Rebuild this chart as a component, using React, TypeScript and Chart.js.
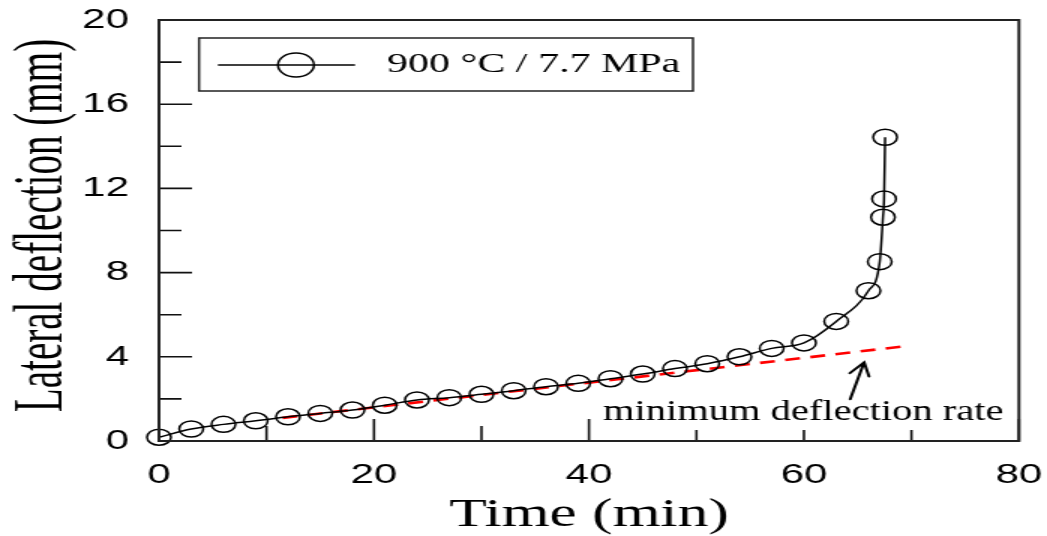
import React, { useEffect, useRef } from 'react';
import { Chart, registerables } from 'chart.js';

Chart.register(...registerables);

// ---- data ----
const timeMin = [0, 3, 6, 9, 12, 15, 18, 21, 24, 27, 30, 33, 36, 39, 42, 45, 48, 51, 54, 57, 60, 63, 66, 67.05, 67.35, 67.45, 67.55];
const deflectionMm = [0.18, 0.57, 0.79, 0.96, 1.15, 1.31, 1.47, 1.7, 1.95, 2.06, 2.22, 2.39, 2.58, 2.74, 2.96, 3.18, 3.44, 3.67, 4.0, 4.4, 4.66, 5.68, 7.14, 8.52, 10.63, 11.5, 14.43];

const minRateTime = [11.5, 69];
const minRateDeflection = [1.1, 4.48];

const xMajorTicks = [0, 20, 40, 60, 80];
const xMinorTicks = [10, 30, 50, 70];
const yMajorTicks = [0, 4, 8, 12, 16, 20];
const yMinorTicks = [2, 6, 10, 14, 18];

const seriesLabel = '900 °C / 7.7 MPa';
const minRateLabel = 'minimum deflection rate';
const xTitle = 'Time (min)';
const yTitle = 'Lateral deflection (mm)';

// annotation anchors in data units
const noteAnchor = { x: 41.3, y: 1.02 };
const arrowTail = { x: 64.3, y: 1.98 };
const arrowTip = { x: 65.6, y: 3.74 };

const CANVAS_W = 698; // drawn narrow, shown stretched like the reference
const CANVAS_H = 536;

const SERIF = '"Liberation Serif", "Times New Roman", serif';
const SANS = '"Liberation Sans", Arial, sans-serif';

const ticksPlugin = {
  id: 'innerTicks',
  beforeDatasetsDraw(chart: any) {
    const { ctx, chartArea: a, scales } = chart;
    const x = scales.x;
    const y = scales.y;
    ctx.save();
    ctx.strokeStyle = '#111';
    ctx.lineWidth = 1.6;
    ctx.beginPath();
    xMajorTicks.forEach((t) => {
      const px = x.getPixelForValue(t);
      ctx.moveTo(px, a.bottom);
      ctx.lineTo(px, a.bottom - 22);
    });
    xMinorTicks.forEach((t) => {
      const px = x.getPixelForValue(t);
      ctx.moveTo(px, a.bottom);
      ctx.lineTo(px, a.bottom - 15);
    });
    yMajorTicks.forEach((v) => {
      const py = y.getPixelForValue(v);
      ctx.moveTo(a.left, py);
      ctx.lineTo(a.left + 22, py);
    });
    yMinorTicks.forEach((v) => {
      const py = y.getPixelForValue(v);
      ctx.moveTo(a.left, py);
      ctx.lineTo(a.left + 15, py);
    });
    ctx.stroke();
    ctx.restore();
  },
};

const annotationPlugin = {
  id: 'minRateNote',
  afterDatasetsDraw(chart: any) {
    const { ctx, chartArea: a, scales } = chart;
    const x = scales.x;
    const y = scales.y;
    ctx.save();
    const sx = 0.9;
    ctx.font = `30px ${SERIF}`;
    const tx = x.getPixelForValue(noteAnchor.x);
    const ty = y.getPixelForValue(noteAnchor.y);
    const w = ctx.measureText(minRateLabel).width * sx;
    ctx.fillStyle = '#fff';
    ctx.fillRect(tx - 3, ty - 27, w + 8, a.bottom - 11 - (ty - 27));
    ctx.fillStyle = '#000';
    ctx.textBaseline = 'alphabetic';
    ctx.textAlign = 'left';
    ctx.save();
    ctx.translate(tx, ty);
    ctx.scale(sx, 1);
    ctx.fillText(minRateLabel, 0, 0);
    ctx.restore();

    // arrow
    const x0 = x.getPixelForValue(arrowTail.x);
    const y0 = y.getPixelForValue(arrowTail.y);
    const x1 = x.getPixelForValue(arrowTip.x);
    const y1 = y.getPixelForValue(arrowTip.y);
    const ang = Math.atan2(y0 - y1, x0 - x1);
    const L = 14.5;
    const spread = (27 * Math.PI) / 180;
    ctx.strokeStyle = '#000';
    ctx.lineWidth = 2;
    ctx.lineCap = 'round';
    ctx.beginPath();
    ctx.moveTo(x0, y0);
    ctx.lineTo(x1, y1);
    ctx.moveTo(x1 + L * Math.cos(ang + spread), y1 + L * Math.sin(ang + spread));
    ctx.lineTo(x1, y1);
    ctx.lineTo(x1 + L * Math.cos(ang - spread), y1 + L * Math.sin(ang - spread));
    ctx.stroke();
    ctx.restore();
  },
};

const framePlugin = {
  id: 'frameAndLegend',
  afterDraw(chart: any) {
    const { ctx, chartArea: a } = chart;
    ctx.save();
    ctx.strokeStyle = '#222';
    ctx.lineWidth = 2;
    ctx.strokeRect(a.left, a.top, a.right - a.left, a.bottom - a.top);

    // y-axis title (condensed serif, as in the reference)
    ctx.save();
    const fs = 46;
    ctx.font = `${fs}px ${SERIF}`;
    ctx.fillStyle = '#000';
    ctx.textAlign = 'center';
    ctx.textBaseline = 'alphabetic';
    ctx.translate(40.5, (a.top + a.bottom) / 2 - 5);
    ctx.rotate(-Math.PI / 2);
    ctx.scale(0.85, 1);
    ctx.fillText(yTitle, 0, 0);
    ctx.restore();

    // legend box inside the plot
    const bx = a.left + 26.7;
    const by = a.top + 18;
    const bw = 329.3;
    const bh = 53;
    const ly = by + bh / 2 + 0.5;
    ctx.strokeStyle = '#222';
    ctx.lineWidth = 1.5;
    ctx.strokeRect(bx, by, bw, bh);
    ctx.strokeStyle = '#000';
    ctx.beginPath();
    ctx.moveTo(bx + 12.6, ly);
    ctx.lineTo(bx + 104, ly);
    ctx.stroke();
    ctx.beginPath();
    ctx.arc(bx + 64.6, ly, 12, 0, Math.PI * 2);
    ctx.stroke();
    ctx.fillStyle = '#000';
    ctx.font = `28px ${SERIF}`;
    ctx.textBaseline = 'middle';
    ctx.textAlign = 'left';
    ctx.fillText(String(chart.data.datasets[0].label), bx + 125.3, ly);
    ctx.restore();
  },
};

export default function App() {
  const ref = useRef<HTMLCanvasElement | null>(null);

  useEffect(() => {
    const canvas = ref.current;
    if (!canvas) return;
    const chart = new Chart(canvas, {
      type: 'line',
      data: {
        datasets: [
          {
            label: seriesLabel,
            data: timeMin.map((t, i) => ({ x: t, y: deflectionMm[i] })),
            borderColor: '#000',
            borderWidth: 1.5,
            pointRadius: 8,
            pointBorderWidth: 1.5,
            pointBorderColor: '#000',
            pointBackgroundColor: 'rgba(0,0,0,0)',
            pointStyle: 'circle',
            cubicInterpolationMode: 'monotone',
            fill: false,
            clip: false as any,
          },
          {
            label: minRateLabel,
            data: minRateTime.map((t, i) => ({ x: t, y: minRateDeflection[i] })),
            borderColor: '#ff0000',
            borderWidth: 2.6,
            borderDash: [10, 7],
            pointRadius: 0,
            fill: false,
            clip: false as any,
          },
        ],
      },
      options: {
        responsive: false,
        animation: false,
        devicePixelRatio: 1,
        events: [],
        layout: { padding: { left: 0, top: 20, right: 18.7, bottom: 0 } },
        plugins: {
          legend: { display: false },
          tooltip: { enabled: false },
          title: { display: false },
        },
        scales: {
          x: {
            type: 'linear',
            position: 'bottom',
            min: 0,
            max: 80,
            grid: { display: false, drawTicks: false },
            border: { display: false },
            ticks: {
              stepSize: 20,
              padding: 17,
              color: '#000',
              maxRotation: 0,
              autoSkip: false,
              font: { family: SANS, size: 28 },
            },
            title: {
              display: true,
              text: xTitle,
              color: '#000',
              font: { family: SERIF, size: 41, lineHeight: 1 },
              padding: { top: 0, bottom: 0 },
            },
            afterFit: (s: any) => {
              s.height = 95;
              s.paddingLeft = 0;
              s.paddingRight = 0;
            },
          },
          y: {
            type: 'linear',
            min: 0,
            max: 20,
            grid: { display: false, drawTicks: false },
            border: { display: false },
            ticks: {
              stepSize: 4,
              padding: 20,
              color: '#000',
              font: { family: SANS, size: 28 },
            },
            title: { display: false, text: yTitle },
            afterFit: (s: any) => {
              s.width = 106;
              s.paddingTop = 0;
              s.paddingBottom = 0;
            },
          },
        },
      } as any,
      plugins: [ticksPlugin, annotationPlugin, framePlugin],
    });
    return () => chart.destroy();
  }, []);

  return (
    <div
      style={{
        position: 'absolute',
        left: 0,
        top: 0,
        width: 1047,
        height: 536,
        background: '#fff',
        overflow: 'hidden',
      }}
    >
      <canvas
        ref={ref}
        width={CANVAS_W}
        height={CANVAS_H}
        style={{ width: '1047px', height: '536px', display: 'block' }}
      />
    </div>
  );
}
